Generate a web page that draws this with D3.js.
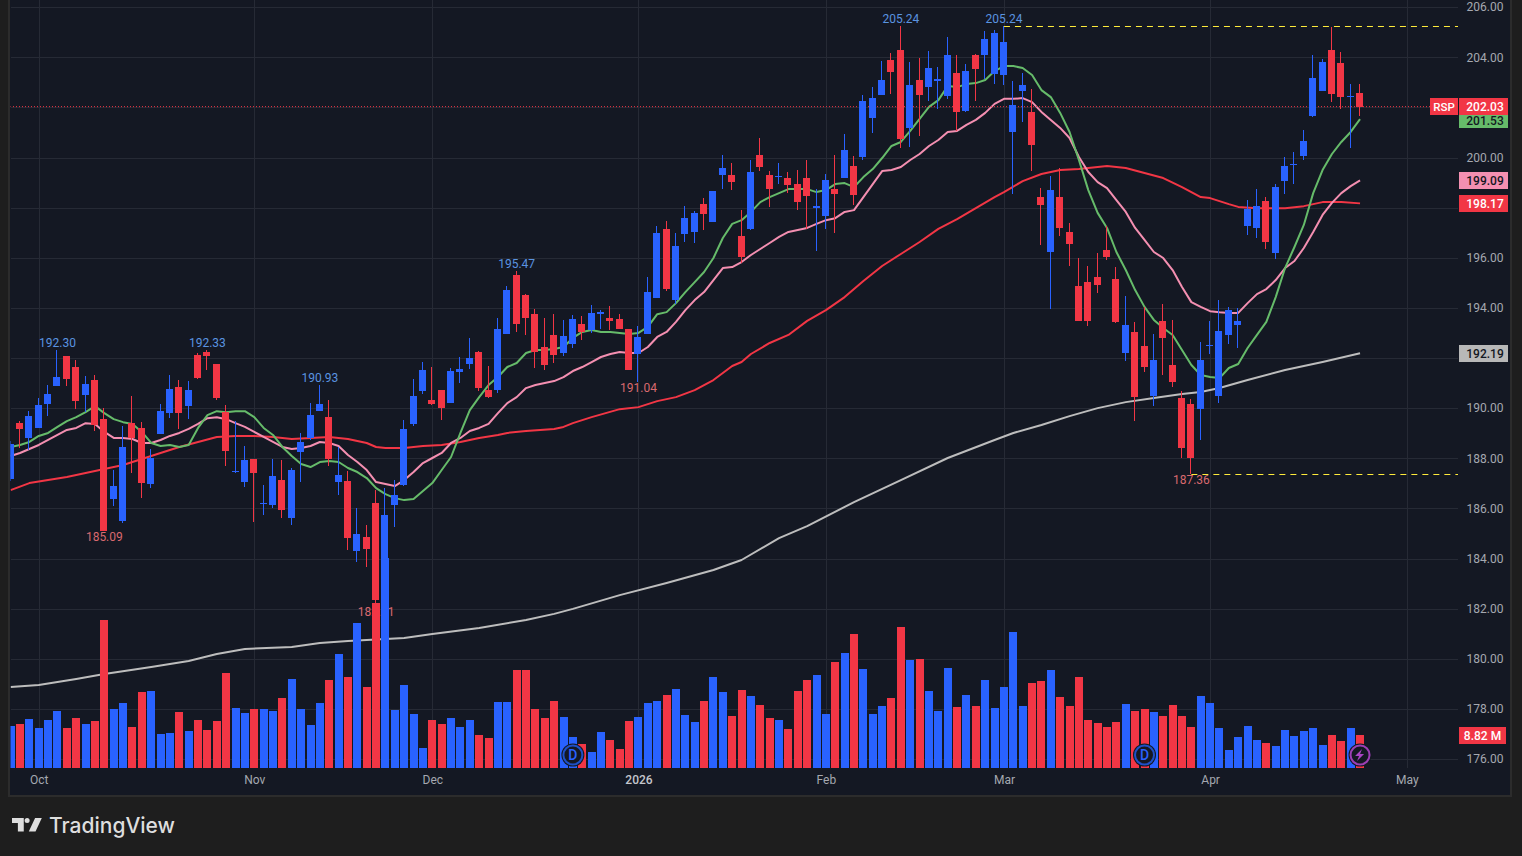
<!DOCTYPE html>
<html>
<head>
<meta charset="utf-8">
<style>
  html, body { margin: 0; padding: 0; background: #1e1e1e; overflow: hidden; }
  text { font-family: Roboto, sans-serif; }
</style>
<script src="https://cdn.jsdelivr.net/npm/d3@7"></script>
</head>
<body>
<div id="chart"></div>
<script>
// daily OHLC, oldest first, index 0 is the bar cut off at the left edge
const opens = [187.17,189.40,188.81,189.21,190.16,190.88,192.08,191.64,190.52,191.12,
  189.56,186.37,185.49,189.40,189.21,186.97,188.97,189.80,190.84,190.08,
  192.12,192.24,191.76,189.84,187.45,187.05,187.97,186.17,186.13,187.13,
  185.61,188.25,188.81,189.88,189.64,187.05,187.09,184.30,184.85,186.21,
  182.74,186.13,186.93,189.37,190.68,190.32,190.72,190.20,191.44,191.76,
  192.24,190.72,190.72,192.96,195.31,194.51,193.75,192.44,192.92,192.20,
  192.56,193.36,193.12,193.75,193.60,193.56,193.16,192.16,192.96,194.39,
  197.15,194.31,196.95,197.03,198.14,197.43,199.30,199.30,196.87,197.15,
  200.10,199.30,199.22,199.18,198.94,199.18,197.98,197.67,198.74,199.18,
  199.66,200.02,201.58,202.49,203.89,204.29,201.18,203.09,202.81,203.05,
  202.45,203.37,201.86,204.09,204.09,203.33,203.29,201.02,202.65,201.82,
  198.42,196.23,198.42,197.03,194.87,195.03,195.23,196.31,195.15,192.20,
  193.04,192.48,190.48,193.48,191.72,190.40,190.16,189.96,192.48,190.48,
  192.92,193.32,197.27,197.19,198.26,196.19,199.06,199.70,200.06,201.66,
  202.65,204.29,203.77,202.41,202.57];
const highs = [188.69,189.48,189.88,190.40,190.92,192.30,192.08,191.92,191.28,191.32,
  190.00,187.53,189.29,190.48,189.44,188.37,190.16,191.32,191.12,191.08,
  192.20,192.33,191.76,190.12,189.48,188.49,187.97,186.93,187.97,187.93,
  187.61,189.01,190.20,190.93,190.32,188.45,187.49,186.01,185.33,186.73,
  186.81,187.13,189.52,191.16,191.84,191.64,190.72,191.60,192.04,192.80,
  192.28,191.68,193.60,194.87,195.47,194.55,193.95,193.60,193.75,193.52,
  193.72,193.68,194.11,193.91,194.07,193.75,193.16,193.28,195.23,197.27,
  197.47,196.99,198.06,197.86,198.38,198.66,200.10,199.78,197.90,199.90,
  200.78,199.46,199.78,199.42,199.50,199.90,198.74,199.34,200.10,200.94,
  200.06,202.49,202.81,203.85,204.17,205.24,203.81,203.97,204.25,203.61,
  204.81,204.09,203.73,204.13,205.05,205.09,205.24,203.05,203.37,202.73,
  198.78,199.26,199.58,197.39,195.99,195.67,196.19,197.27,195.63,194.47,
  193.44,194.04,192.96,194.15,193.52,190.68,190.36,192.64,193.48,194.31,
  194.04,194.00,198.30,198.74,198.42,198.94,200.02,200.22,201.10,204.09,
  203.93,205.21,204.21,202.93,202.93];
const lows = [187.09,188.41,188.33,189.21,189.68,190.88,190.88,189.96,189.84,189.09,
  185.09,186.09,185.41,187.41,186.41,186.81,188.97,189.60,189.17,189.56,
  191.16,191.52,190.32,187.69,187.41,186.85,185.45,185.73,186.01,185.61,
  185.33,187.05,188.73,189.88,187.69,186.53,184.34,183.86,183.66,182.11,
  182.54,185.25,186.89,189.29,190.56,190.12,189.52,190.20,191.00,191.56,
  190.68,190.40,190.60,192.96,193.04,192.92,191.60,191.52,191.80,192.08,
  192.40,192.72,193.00,193.16,193.12,193.16,191.52,191.04,192.96,194.39,
  194.67,194.15,196.63,196.59,197.11,197.43,198.74,198.70,195.79,197.11,
  199.46,198.03,198.94,198.58,197.90,197.15,196.27,197.15,196.99,199.18,
  198.10,199.90,200.98,202.49,202.53,200.38,200.42,200.86,202.25,201.94,
  202.34,201.06,201.82,202.25,203.13,202.93,202.89,198.54,201.42,199.46,
  196.51,193.95,196.87,195.67,193.48,193.28,194.59,195.91,193.40,191.88,
  189.48,191.44,190.08,191.32,190.84,188.01,187.36,188.73,192.16,190.20,
  192.56,192.40,196.91,196.79,196.35,195.95,198.54,198.94,199.90,201.62,
  202.65,202.21,201.94,200.38,201.66];
const closes = [188.57,189.17,189.68,190.12,190.56,191.24,191.16,190.28,190.96,189.32,
  185.09,186.89,188.45,188.81,187.01,188.01,189.88,190.76,189.80,190.72,
  191.20,192.08,190.40,188.29,187.49,187.93,187.41,186.21,187.29,185.93,
  187.53,188.65,189.72,190.16,187.97,187.33,184.81,184.97,184.38,182.34,
  185.73,186.53,189.17,190.48,191.52,190.16,190.00,191.48,191.56,192.00,
  190.80,190.44,193.16,194.71,193.36,193.60,192.24,191.72,192.12,192.88,
  193.56,193.04,193.80,193.83,193.48,193.16,191.52,192.84,194.63,196.99,
  194.75,196.47,197.58,197.78,197.74,198.66,199.58,199.02,196.03,199.42,
  199.62,198.74,199.26,198.90,198.22,198.46,198.06,199.10,198.54,200.30,
  198.50,202.25,202.37,203.09,203.41,200.74,202.89,202.49,203.57,203.13,
  204.09,201.82,203.45,203.53,204.73,204.97,204.61,202.10,202.89,200.50,
  198.10,198.70,197.19,196.55,193.48,193.48,194.91,196.03,193.44,193.32,
  190.44,191.64,191.92,192.80,191.04,188.41,188.01,191.92,192.52,193.08,
  193.91,193.48,197.94,198.06,196.63,198.82,199.66,199.74,200.66,203.17,
  203.81,202.53,202.41,202.45,202.03];
// volume in millions
const volumes = [11.23,11.76,13.10,10.69,12.83,15.24,10.69,13.37,11.76,12.56,
  39.56,15.77,17.37,10.96,20.31,20.58,9.09,9.36,14.97,9.89,
  12.83,10.16,12.56,25.39,16.04,14.70,15.77,15.77,15.24,18.71,
  23.79,15.77,11.49,17.37,23.52,30.47,24.32,38.76,21.65,44.10,
  56.13,15.50,22.19,14.43,5.35,12.83,11.76,13.37,10.96,12.83,
  8.82,8.02,17.64,17.64,26.20,26.20,15.77,13.37,17.91,13.63,
  8.29,6.42,4.28,9.62,7.48,5.08,12.56,13.63,17.37,17.91,
  19.51,21.12,14.17,12.30,17.91,24.32,20.31,13.90,20.85,19.25,
  16.84,13.37,12.83,10.42,20.58,23.52,24.86,14.43,28.33,30.74,
  35.82,26.46,14.43,16.57,18.71,37.69,28.87,29.14,20.58,15.24,
  26.73,16.31,19.51,16.57,23.52,16.04,21.65,36.35,16.57,22.72,
  23.26,26.20,18.98,16.57,24.32,12.83,12.03,10.96,12.30,17.11,
  15.24,15.77,14.97,13.90,16.84,13.90,10.96,19.25,17.37,10.69,
  4.81,8.29,11.23,7.48,6.68,5.88,10.16,8.55,9.89,10.69,
  6.15,8.82,7.22,10.69,8.82];

// moving averages
const maFast = [188.45,188.53,188.65,188.89,189.01,189.25,189.48,189.64,189.84,190.08,
  189.80,189.56,189.44,189.37,189.05,188.61,188.49,188.53,188.45,188.53,
  189.21,189.72,189.88,189.84,189.88,189.88,189.64,189.21,188.93,188.45,
  188.09,187.77,187.65,187.85,187.89,187.85,187.61,187.45,187.21,186.81,
  186.57,186.41,186.33,186.37,186.69,187.01,187.53,188.05,189.01,189.92,
  190.44,190.92,191.24,191.64,191.80,192.20,192.32,192.32,192.36,192.44,
  192.80,193.04,193.12,193.04,193.04,193.00,192.96,193.00,193.24,193.75,
  193.83,194.19,194.63,195.03,195.43,195.99,196.79,197.35,197.50,197.83,
  198.22,198.42,198.58,198.74,198.74,198.74,198.62,198.70,198.94,198.98,
  198.82,199.22,199.54,199.98,200.46,200.62,201.06,201.54,202.02,202.29,
  202.85,202.81,202.93,202.97,203.09,203.45,203.65,203.65,203.57,203.29,
  202.69,202.41,201.78,201.02,199.90,198.70,197.79,197.19,196.23,195.51,
  194.71,194.04,193.52,193.20,192.92,192.32,191.72,191.32,191.24,191.20,
  191.60,191.76,192.40,192.92,193.44,194.43,195.59,196.43,197.31,198.58,
  199.50,200.14,200.62,201.02,201.53];
const maMid = [188.09,188.21,188.37,188.53,188.73,188.93,189.13,189.21,189.40,189.37,
  189.05,188.81,188.81,188.77,188.61,188.61,188.73,188.89,189.01,189.17,
  189.37,189.60,189.64,189.56,189.40,189.25,189.05,188.85,188.65,188.45,
  188.37,188.41,188.49,188.65,188.61,188.49,188.13,187.85,187.53,187.05,
  186.97,186.89,187.13,187.45,187.81,188.01,188.21,188.61,188.81,189.09,
  189.21,189.37,189.80,190.20,190.44,190.80,190.92,191.00,191.08,191.24,
  191.48,191.64,191.84,192.04,192.16,192.24,192.20,192.20,192.44,192.84,
  193.04,193.44,193.91,194.31,194.63,195.11,195.59,195.63,195.83,196.11,
  196.35,196.59,196.83,197.03,197.11,197.19,197.35,197.50,197.58,197.83,
  197.90,198.42,198.94,199.46,199.50,199.62,199.90,200.14,200.46,200.70,
  201.02,201.06,201.30,201.50,201.78,202.14,202.34,202.34,202.37,202.21,
  201.82,201.50,201.18,200.78,200.02,199.42,199.02,198.78,198.30,197.83,
  197.19,196.71,196.23,195.99,195.51,194.83,194.23,194.04,193.87,193.83,
  193.80,193.80,194.19,194.55,194.75,195.11,195.59,195.87,196.39,197.03,
  197.71,198.19,198.58,198.86,199.09];
// the two slow lines are smooth, so they only keep some bars
const maSlowBars = [0,2,4,6,8,10,12,14,16,18,20,22,24,26,28,30,32,34,36,38,39,40,42,44,46,48,50,52,53,55,
  58,59,60,62,65,67,69,71,73,75,77,78,79,81,83,85,87,89,91,93,95,97,99,101,103,105,106,108,110,112,
  114,116,117,119,121,123,125,127,128,130,131,133,136,138,140,142,144];
const maSlow = [186.73,187.01,187.13,187.25,187.41,187.57,187.73,187.97,188.21,188.45,188.65,188.85,188.89,188.89,188.85,188.77,188.81,188.85,188.77,188.61,188.45,188.41,188.41,188.49,188.53,188.65,188.81,188.93,189.01,189.09,
  189.17,189.25,189.40,189.64,189.96,190.04,190.28,190.44,190.72,191.12,191.68,191.84,192.16,192.60,192.92,193.48,193.91,194.43,195.07,195.67,196.15,196.63,197.15,197.54,197.98,198.42,198.62,199.06,199.34,199.50,
  199.54,199.62,199.66,199.58,199.38,199.18,198.82,198.42,198.38,198.14,198.03,197.98,197.98,198.06,198.22,198.22,198.17];
const maLongBars = [0,3,7,10,15,19,22,25,30,33,36,42,45,50,55,58,60,65,70,75,78,82,85,90,95,100,105,107,110,113,116,119,122,125,127,129,132,136,140,144];
const maLong = [178.87,178.95,179.19,179.39,179.67,179.91,180.19,180.39,180.47,180.63,180.71,180.83,180.99,181.23,181.55,181.79,181.99,182.54,183.02,183.54,183.94,184.81,185.29,186.25,187.13,188.01,188.73,189.01,189.33,189.68,190.00,190.24,190.40,190.56,190.64,190.80,191.12,191.52,191.84,192.19];

const priceTicks = d3.range(176, 207, 2);
const monthBars = [3, 26, 45, 67, 87, 106, 128, 149];
const monthLabels = ['Oct', 'Nov', 'Dec', '2026', 'Feb', 'Mar', 'Apr', 'May'];
const highBars = [5, 21, 33, 54, 95, 106];
const lowBars = [10, 39, 67, 126];
const dividendBars = [60, 121];
const newsBars = [144];

const width = 1522, height = 856;
const blue = '#2962ff', red = '#f23645', green = '#66bb6a', pink = '#f48fb1', silver = '#bdbdbd';
const bg = '#141823', grid = '#262a35', axisText = '#a5a8b0';

const svg = d3.select('#chart').append('svg')
  .attr('width', width)
  .attr('height', height)
  .style('display', 'block');

svg.append('rect').attr('width', width).attr('height', height).attr('fill', '#1e1e1e');
svg.append('rect').attr('x', 9).attr('y', -2).attr('width', 1502).attr('height', 798)
  .attr('fill', bg).attr('stroke', '#2c2c2c').attr('stroke-width', 2);

const x = d3.scaleLinear().domain([0, 149]).range([10.63, 1406.9]);
const y = d3.scaleLinear().domain([176, 206]).range([759, 7.14]);
const yVol = d3.scaleLinear().domain([0, 60]).range([767.7, 543.2]);

svg.append('defs').append('clipPath').attr('id', 'plot')
  .append('rect').attr('x', 10.5).attr('y', 0).attr('width', 1447.5).attr('height', 795);

// grid, drawn from the axes themselves
const gridH = svg.append('g').attr('transform', 'translate(1458,0)')
  .call(d3.axisLeft(y).tickValues(priceTicks).tickSize(1447).tickFormat(''));
const gridV = svg.append('g').attr('transform', 'translate(0,768)')
  .call(d3.axisTop(x).tickValues(monthBars).tickSize(768).tickFormat(''));
[gridH, gridV].forEach(g => {
  g.select('.domain').remove();
  g.selectAll('line').attr('stroke', grid).attr('shape-rendering', 'crispEdges');
});

const plot = svg.append('g').attr('clip-path', 'url(#plot)');

// moving averages sit under the candles
const line = d3.line().x(d => x(d[0])).y(d => y(d[1]));
const maLines = [
  [d3.zip(maLongBars, maLong), silver],
  [d3.zip(maSlowBars, maSlow), red],
  [maMid.map((v, i) => [i, v]), pink],
  [maFast.map((v, i) => [i, v]), green]
];
plot.selectAll('path.ma').data(maLines).enter().append('path')
  .attr('class', 'ma')
  .attr('d', d => line(d[0]))
  .attr('fill', 'none')
  .attr('stroke', d => d[1])
  .attr('stroke-width', 2)
  .attr('stroke-linejoin', 'round');

// last price and high/low lines
plot.append('line')
  .attr('x1', 10).attr('x2', 1430)
  .attr('y1', y(closes[144])).attr('y2', y(closes[144]))
  .attr('stroke', red).attr('stroke-dasharray', '1 2');
[[106, highs[106]], [126, lows[126]]].forEach(d => {
  plot.append('line')
    .attr('x1', x(d[0])).attr('x2', 1458)
    .attr('y1', Math.round(y(d[1])) + 0.5).attr('y2', Math.round(y(d[1])) + 0.5)
    .attr('stroke', '#ffeb3b').attr('stroke-dasharray', '6 5');
});

// candles
const isUp = i => closes[i] >= opens[i];
const candles = plot.selectAll('g.candle').data(d3.range(opens.length)).enter().append('g')
  .attr('class', 'candle')
  .attr('fill', i => isUp(i) ? blue : red)
  .attr('shape-rendering', 'crispEdges');
candles.append('rect')
  .attr('x', i => Math.round(x(i)) - 1)
  .attr('width', 1)
  .attr('y', i => y(highs[i]))
  .attr('height', i => y(lows[i]) - y(highs[i]));
candles.append('rect')
  .attr('x', i => Math.round(x(i)) - 4)
  .attr('width', 7)
  .attr('y', i => y(Math.max(opens[i], closes[i])))
  .attr('height', i => Math.max(1, Math.abs(y(opens[i]) - y(closes[i]))));

// high/low labels
plot.selectAll('text.hi').data(highBars).enter().append('text')
  .attr('class', 'hi')
  .attr('x', i => x(i))
  .attr('y', i => y(highs[i]) - 3)
  .attr('text-anchor', 'middle')
  .attr('font-size', 12)
  .attr('fill', '#5a94e0')
  .text(i => highs[i].toFixed(2));
plot.selectAll('text.lo').data(lowBars).enter().append('text')
  .attr('class', 'lo')
  .attr('x', i => x(i))
  .attr('y', i => y(lows[i]) + 10)
  .attr('text-anchor', 'middle')
  .attr('font-size', 12)
  .attr('fill', '#d9696f')
  .text(i => lows[i].toFixed(2));

// volume goes over everything in the plot
plot.selectAll('rect.vol').data(volumes).enter().append('rect')
  .attr('class', 'vol')
  .attr('x', (d, i) => Math.round(x(i)) - 4)
  .attr('width', 8)
  .attr('y', d => yVol(d))
  .attr('height', d => yVol(0) - yVol(d))
  .attr('fill', (d, i) => isUp(i) ? blue : red)
  .attr('shape-rendering', 'crispEdges');

// event badges
function badge(i, col) {
  const g = svg.append('g').attr('transform', 'translate(' + x(i) + ',755)');
  g.append('circle').attr('r', 11.5).attr('fill', bg);
  g.append('circle').attr('r', 9.5).attr('fill', bg).attr('stroke', col).attr('stroke-width', 2);
  return g;
}
dividendBars.forEach(i => {
  badge(i, '#1e50c8').append('text')
    .attr('y', 5).attr('text-anchor', 'middle')
    .attr('font-size', 14).attr('font-weight', 500)
    .attr('fill', '#2962ff').text('D');
});
newsBars.forEach(i => {
  badge(i, '#9c3fb5').append('path')
    .attr('d', 'M2-6L-5 1h4l-2 5 7-7H0Z')
    .attr('fill', '#a944c4');
});

// price axis
const priceAxis = svg.append('g').attr('transform', 'translate(1485,0)')
  .call(d3.axisRight(y).tickValues(priceTicks).tickSize(0).tickPadding(0).tickFormat(d3.format('.2f')));
priceAxis.select('.domain').remove();
priceAxis.selectAll('text')
  .attr('text-anchor', 'middle')
  .attr('font-size', 12)
  .attr('font-family', 'Roboto, sans-serif')
  .attr('fill', axisText);

// time axis
const timeAxis = svg.append('g').attr('transform', 'translate(0,775)')
  .call(d3.axisBottom(x).tickValues(monthBars).tickSize(0).tickPadding(0)
    .tickFormat((d, i) => monthLabels[i]));
timeAxis.select('.domain').remove();
timeAxis.selectAll('text')
  .attr('font-size', 12)
  .attr('font-family', 'Roboto, sans-serif')
  .attr('fill', (d, i) => monthLabels[i] === '2026' ? '#c4c6cc' : axisText)
  .attr('font-weight', (d, i) => monthLabels[i] === '2026' ? 500 : 400);

// value tags on the right, listed bottom layer first
const tags = [
  [maFast[144], green, '#131722', 113, 15],
  [closes[144], red, '#ffffff', 98, 17],
  [maMid[144], pink, '#131722', 172, 17],
  [maSlow[maSlow.length - 1], red, '#ffffff', 195, 17],
  [maLong[maLong.length - 1], '#b8b8b8', '#131722', 345, 17]
];
tags.forEach(t => {
  svg.append('rect').attr('x', 1459).attr('y', t[3]).attr('width', 49).attr('height', t[4]).attr('fill', t[1]);
  svg.append('text').attr('x', 1485).attr('y', t[3] + t[4] / 2 + 4.2)
    .attr('text-anchor', 'middle').attr('font-size', 12).attr('font-weight', 500)
    .attr('fill', t[2]).text(t[0].toFixed(2));
});
svg.append('rect').attr('x', 1430).attr('y', 98).attr('width', 28).attr('height', 17).attr('fill', red);
svg.append('text').attr('x', 1444).attr('y', 110.5)
  .attr('text-anchor', 'middle').attr('font-size', 11.5).attr('font-weight', 500)
  .attr('fill', '#fff').text('RSP');
svg.append('rect').attr('x', 1459).attr('y', 727).attr('width', 47).attr('height', 17).attr('fill', red);
svg.append('text').attr('x', 1482.5).attr('y', 739.5)
  .attr('text-anchor', 'middle').attr('font-size', 12).attr('font-weight', 500)
  .attr('fill', '#fff').text(volumes[144].toFixed(2) + ' M');

// footer logo
svg.append('path')
  .attr('transform', 'translate(12,813) scale(.84)')
  .attr('d', 'M14 6H0v6h7v10h7V6ZM28 22h-8l7.5-16h8L28 22ZM18 12a3 3 0 1 0 0-6 3 3 0 0 0 0 6Z')
  .attr('fill', '#dedede');
svg.append('text').attr('x', 49).attr('y', 833)
  .attr('font-size', 21).attr('font-weight', 500)
  .style('font-family', 'Inter, sans-serif')
  .attr('fill', '#dedede').text('TradingView');
</script>
</body>
</html>
